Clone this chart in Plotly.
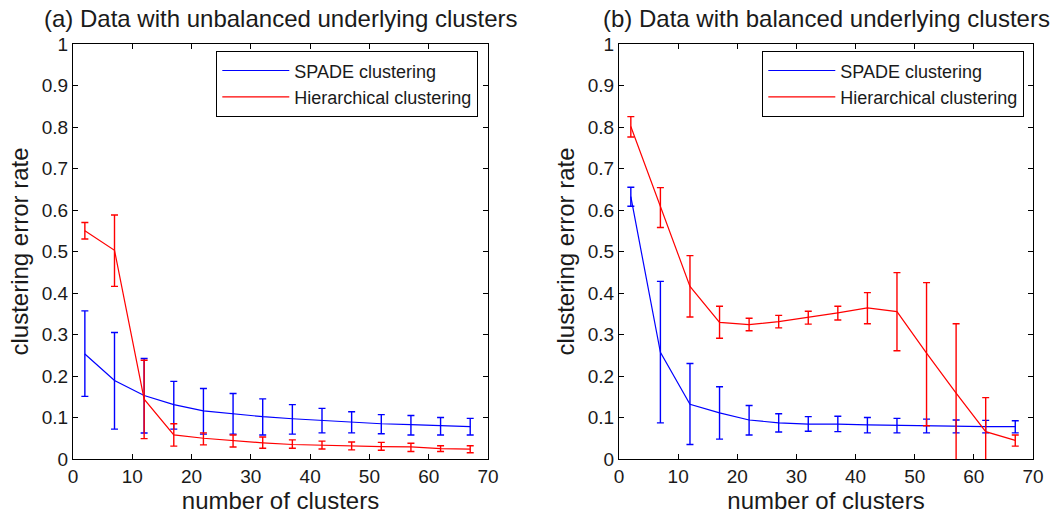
import plotly.graph_objects as go

clusters = [2, 7, 12, 17, 22, 27, 32, 37, 42, 47, 52, 57, 62, 67]

# Panel (a): unbalanced
a_spade_mean = [0.253, 0.189, 0.153, 0.131, 0.116, 0.109, 0.102, 0.097, 0.093, 0.089, 0.085, 0.083, 0.080, 0.078]
a_spade_up   = [0.357, 0.305, 0.242, 0.187, 0.170, 0.158, 0.145, 0.131, 0.122, 0.114, 0.107, 0.105, 0.100, 0.098]
a_spade_lo   = [0.151, 0.072, 0.0625, 0.072, 0.060, 0.060, 0.058, 0.060, 0.063, 0.063, 0.061, 0.058, 0.058, 0.058]
a_hier_mean  = [0.550, 0.503, 0.144, 0.058, 0.050, 0.044, 0.039, 0.035, 0.033, 0.031, 0.030, 0.029, 0.025, 0.024]
a_hier_up    = [0.570, 0.588, 0.238, 0.085, 0.063, 0.058, 0.053, 0.046, 0.043, 0.041, 0.040, 0.038, 0.032, 0.032]
a_hier_lo    = [0.530, 0.416, 0.049, 0.031, 0.034, 0.029, 0.026, 0.026, 0.024, 0.022, 0.021, 0.018, 0.018, 0.015]

# Panel (b): balanced
b_spade_mean = [0.632, 0.257, 0.132, 0.111, 0.094, 0.087, 0.084, 0.084, 0.082, 0.081, 0.079, 0.079, 0.078, 0.078]
b_spade_up   = [0.655, 0.428, 0.230, 0.174, 0.129, 0.109, 0.102, 0.103, 0.100, 0.098, 0.096, 0.094, 0.093, 0.092]
b_spade_lo   = [0.609, 0.087, 0.035, 0.048, 0.058, 0.065, 0.067, 0.066, 0.063, 0.063, 0.063, 0.063, 0.063, 0.063]
b_hier_mean  = [0.801, 0.608, 0.416, 0.329, 0.324, 0.331, 0.341, 0.352, 0.364, 0.355, 0.255, 0.159, 0.066, 0.045]
b_hier_up    = [0.825, 0.654, 0.490, 0.368, 0.339, 0.346, 0.356, 0.368, 0.401, 0.449, 0.425, 0.326, 0.148, 0.058]
b_hier_lo    = [0.776, 0.558, 0.342, 0.291, 0.309, 0.316, 0.325, 0.335, 0.326, 0.261, 0.080, -0.010, -0.017, 0.031]

titles = ["(a) Data with unbalanced underlying clusters", "(b) Data with balanced underlying clusters"]
series_names = ["SPADE clustering", "Hierarchical clustering"]
x_title = "number of clusters"
y_title = "clustering error rate"
BLUE = "#0000FF"
RED = "#FF0000"
FONT = "Liberation Sans"
TXT = "#1a1a1a"

fig = go.Figure()

def add(mean, up, lo, color, name, xa, ya, legend):
    fig.add_trace(go.Scatter(
        x=clusters, y=mean, mode="lines", name=name,
        line=dict(color=color, width=1.2),
        error_y=dict(type="data", symmetric=False,
                     array=[u - m for u, m in zip(up, mean)],
                     arrayminus=[m - l for m, l in zip(mean, lo)],
                     color=color, thickness=1.4, width=3.5),
        xaxis=xa, yaxis=ya, legend=legend, showlegend=True,
    ))

add(a_spade_mean, a_spade_up, a_spade_lo, BLUE, series_names[0], "x", "y", "legend")
add(a_hier_mean, a_hier_up, a_hier_lo, RED, series_names[1], "x", "y", "legend")
add(b_spade_mean, b_spade_up, b_spade_lo, BLUE, series_names[0], "x2", "y2", "legend2")
add(b_hier_mean, b_hier_up, b_hier_lo, RED, series_names[1], "x2", "y2", "legend2")

W, H = 1055, 514
ML, MR, MT, MB = 73, 22, 44, 55
IW, IH = W - ML - MR, H - MT - MB

def px_x(p):
    return (p - ML) / IW

def px_y(p):
    return 1 - (p - MT) / IH

ax_common = dict(showline=True, linecolor="black", linewidth=1.3, mirror="ticks",
                 ticks="inside", ticklen=5, tickcolor="black", showgrid=False, zeroline=False,
                 automargin=False, tickfont=dict(family=FONT, size=19, color=TXT))
xt = dict(text=x_title, font=dict(family=FONT, size=24, color=TXT), standoff=4)
yt = dict(text=y_title, font=dict(family=FONT, size=24, color=TXT), standoff=6)

leg_common = dict(xanchor="right", yanchor="top", bordercolor="black", borderwidth=1.3,
                  bgcolor="white", font=dict(family=FONT, size=18, color=TXT),
                  tracegroupgap=0, itemwidth=67)

fig.update_layout(
    width=W, height=H, margin=dict(l=ML, r=MR, t=MT, b=MB, pad=0),
    paper_bgcolor="white", plot_bgcolor="white",
    font=dict(family=FONT, color=TXT),
    xaxis=dict(domain=[px_x(73), px_x(488)], range=[0, 70], dtick=10, anchor="y", title=xt, **ax_common),
    yaxis=dict(domain=[0, 1], range=[0, 1], dtick=0.1, anchor="x", title=yt, **ax_common),
    xaxis2=dict(domain=[px_x(619), px_x(1033)], range=[0, 70], dtick=10, anchor="y2", title=xt, **ax_common),
    yaxis2=dict(domain=[0, 1], range=[0, 1], dtick=0.1, anchor="x2", title=yt, **ax_common),
    legend=dict(x=px_x(478), y=px_y(51), **leg_common),
    legend2=dict(x=px_x(1024), y=px_y(51), **leg_common),
    annotations=[
        dict(text=titles[0], x=px_x((73 + 488) / 2), y=px_y(18), xref="paper", yref="paper",
             xanchor="center", yanchor="middle", showarrow=False, font=dict(family=FONT, size=24, color=TXT)),
        dict(text=titles[1], x=px_x((619 + 1033) / 2), y=px_y(18), xref="paper", yref="paper",
             xanchor="center", yanchor="middle", showarrow=False, font=dict(family=FONT, size=24, color=TXT)),
    ],
)

fig.write_html("out.html")
